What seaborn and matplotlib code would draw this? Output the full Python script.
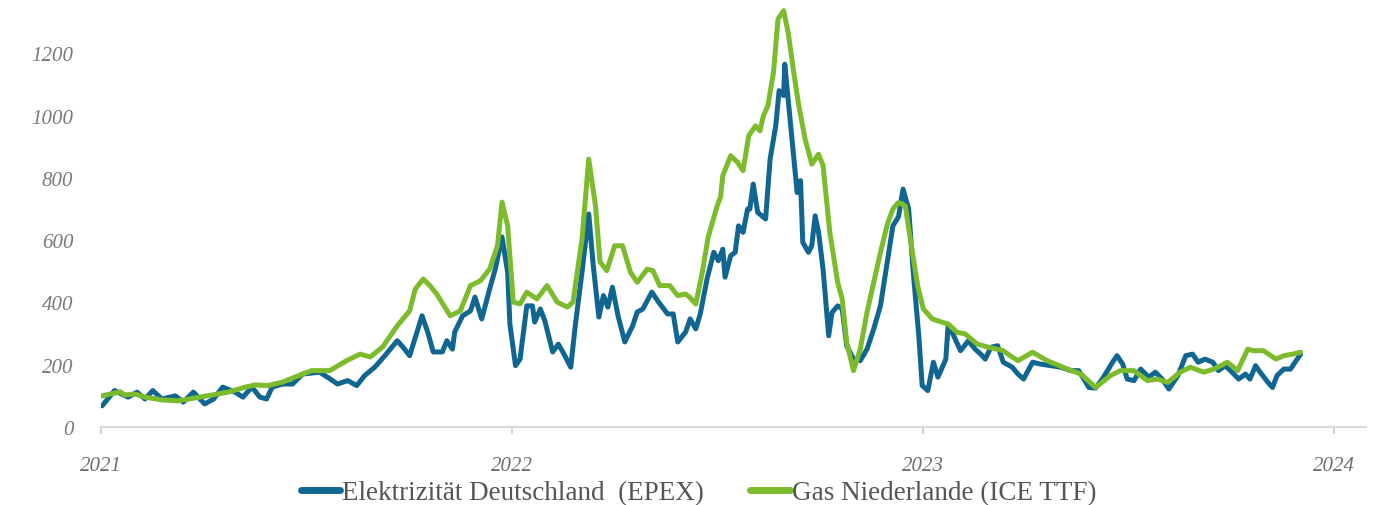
import matplotlib
matplotlib.use("Agg")
import matplotlib.pyplot as plt
from matplotlib.lines import Line2D
import pandas as pd
import seaborn as sns

# Großhandelspreise – Elektrizität vs. Gas
elec_label = "Elektrizität Deutschland  (EPEX)"
gas_label = "Gas Niederlande (ICE TTF)"

elec_dates = [
    "2021-01-02", "2021-01-13", "2021-01-25", "2021-02-02", "2021-02-09", "2021-02-16",
    "2021-02-24", "2021-03-08", "2021-03-15", "2021-03-24", "2021-04-03", "2021-04-11",
    "2021-04-19", "2021-04-30", "2021-05-07", "2021-05-15", "2021-05-22", "2021-05-28",
    "2021-06-02", "2021-06-11", "2021-06-20", "2021-06-29", "2021-07-14", "2021-07-21",
    "2021-07-30", "2021-08-08", "2021-08-16", "2021-08-23", "2021-09-01", "2021-09-10",
    "2021-09-21", "2021-09-26", "2021-10-02", "2021-10-13", "2021-10-18", "2021-10-23",
    "2021-10-31", "2021-11-04", "2021-11-09", "2021-11-11", "2021-11-18", "2021-11-25",
    "2021-11-29", "2021-12-05", "2021-12-12", "2021-12-17", "2021-12-23", "2021-12-28",
    "2021-12-30", "2022-01-04", "2022-01-08", "2022-01-14", "2022-01-19", "2022-01-21",
    "2022-01-26", "2022-01-30", "2022-02-06", "2022-02-11", "2022-02-15", "2022-02-22",
    "2022-02-26", "2022-03-04", "2022-03-10", "2022-03-14", "2022-03-19", "2022-03-23",
    "2022-03-27", "2022-03-31", "2022-04-05", "2022-04-11", "2022-04-18", "2022-04-22",
    "2022-04-27", "2022-05-05", "2022-05-11", "2022-05-19", "2022-05-24", "2022-05-28",
    "2022-06-04", "2022-06-08", "2022-06-13", "2022-06-17", "2022-06-23", "2022-06-29",
    "2022-07-03", "2022-07-07", "2022-07-09", "2022-07-14", "2022-07-18", "2022-07-21",
    "2022-07-25", "2022-07-29", "2022-07-31", "2022-08-03", "2022-08-07", "2022-08-14",
    "2022-08-18", "2022-08-23", "2022-08-26", "2022-08-30", "2022-08-31", "2022-09-03",
    "2022-09-07", "2022-09-11", "2022-09-14", "2022-09-16", "2022-09-21", "2022-09-24",
    "2022-09-27", "2022-09-30", "2022-10-04", "2022-10-09", "2022-10-12", "2022-10-17",
    "2022-10-21", "2022-10-25", "2022-10-31", "2022-11-06", "2022-11-12", "2022-11-18",
    "2022-11-24", "2022-11-30", "2022-12-05", "2022-12-10", "2022-12-14", "2022-12-19",
    "2022-12-23", "2022-12-28", "2022-12-31", "2023-01-05", "2023-01-10", "2023-01-14",
    "2023-01-21", "2023-01-23", "2023-01-28", "2023-02-03", "2023-02-10", "2023-02-16",
    "2023-02-21", "2023-02-25", "2023-03-02", "2023-03-08", "2023-03-13", "2023-03-21",
    "2023-03-26", "2023-03-31", "2023-04-08", "2023-04-15", "2023-04-24", "2023-05-03",
    "2023-05-12", "2023-05-19", "2023-05-28", "2023-06-03", "2023-06-10", "2023-06-18",
    "2023-06-22", "2023-06-27", "2023-07-01", "2023-07-07", "2023-07-13", "2023-07-20",
    "2023-07-26", "2023-08-01", "2023-08-07", "2023-08-15", "2023-08-22", "2023-08-28",
    "2023-09-02", "2023-09-08", "2023-09-15", "2023-09-20", "2023-09-26", "2023-10-02",
    "2023-10-08", "2023-10-14", "2023-10-18", "2023-10-23", "2023-10-27", "2023-11-03",
    "2023-11-07", "2023-11-11", "2023-11-17", "2023-11-23", "2023-11-27", "2023-12-02",
]
elec_values = [
    68, 117, 96, 112, 90, 117,
    90, 100, 80, 112, 74, 90,
    128, 112, 96, 128, 96, 90,
    128, 138, 138, 170, 176, 160,
    138, 149, 133, 165, 192, 229,
    277, 257, 229, 357, 305, 241,
    241, 277, 250, 305, 357, 373,
    417, 347, 443, 507, 610, 497,
    330, 197, 218, 389, 389, 337,
    379, 341, 241, 266, 241, 192,
    325, 497, 684, 518, 353, 422,
    385, 449, 357, 273, 325, 369,
    379, 433, 401, 363, 363, 273,
    305, 347, 315, 363, 475, 561,
    534, 571, 481, 550, 561, 646,
    625, 700, 700, 780, 689, 668,
    860, 967, 1080, 1064, 1165, 1053,
    903, 753, 791, 593, 561, 582,
    678, 625, 507, 293, 368, 389,
    379, 261, 218, 213, 250, 315,
    390, 530, 646, 675, 764, 700,
    500, 293, 133, 117, 208, 160,
    218, 325, 293, 245, 277, 250,
    234, 218, 256, 261, 208, 192,
    170, 154, 208, 202, 197, 192,
    181, 181, 127, 125, 160, 208,
    229, 202, 154, 149, 186, 160,
    176, 154, 122, 165, 229, 234,
    208, 218, 208, 181, 197, 176,
    154, 170, 154, 197, 176, 143,
    127, 165, 186, 186, 208, 234,
]

gas_dates = [
    "2021-01-02", "2021-01-18", "2021-01-22", "2021-01-31", "2021-02-09", "2021-02-24",
    "2021-03-10", "2021-03-25", "2021-04-10", "2021-04-24", "2021-05-09", "2021-05-18",
    "2021-05-29", "2021-06-11", "2021-06-22", "2021-07-07", "2021-07-23", "2021-08-07",
    "2021-08-19", "2021-08-28", "2021-09-08", "2021-09-21", "2021-10-02", "2021-10-07",
    "2021-10-14", "2021-10-20", "2021-10-26", "2021-11-07", "2021-11-16", "2021-11-25",
    "2021-12-04", "2021-12-12", "2021-12-19", "2021-12-23", "2021-12-28", "2022-01-02",
    "2022-01-08", "2022-01-14", "2022-01-23", "2022-02-01", "2022-02-10", "2022-02-19",
    "2022-02-24", "2022-03-04", "2022-03-10", "2022-03-16", "2022-03-20", "2022-03-26",
    "2022-04-02", "2022-04-09", "2022-04-16", "2022-04-22", "2022-05-01", "2022-05-06",
    "2022-05-12", "2022-05-21", "2022-05-28", "2022-06-04", "2022-06-08", "2022-06-13",
    "2022-06-19", "2022-06-24", "2022-07-02", "2022-07-05", "2022-07-07", "2022-07-14",
    "2022-07-20", "2022-07-25", "2022-07-30", "2022-08-05", "2022-08-09", "2022-08-12",
    "2022-08-16", "2022-08-21", "2022-08-25", "2022-08-30", "2022-09-03", "2022-09-08",
    "2022-09-12", "2022-09-18", "2022-09-24", "2022-09-30", "2022-10-04", "2022-10-10",
    "2022-10-17", "2022-10-21", "2022-10-25", "2022-10-31", "2022-11-06", "2022-11-12",
    "2022-11-18", "2022-11-24", "2022-11-30", "2022-12-05", "2022-12-10", "2022-12-16",
    "2022-12-20", "2022-12-27", "2023-01-01", "2023-01-09", "2023-01-18", "2023-01-23",
    "2023-01-31", "2023-02-07", "2023-02-18", "2023-02-28", "2023-03-13", "2023-03-19",
    "2023-03-26", "2023-04-08", "2023-04-21", "2023-05-09", "2023-05-21", "2023-06-03",
    "2023-06-16", "2023-06-25", "2023-07-07", "2023-07-19", "2023-07-28", "2023-08-06",
    "2023-08-17", "2023-08-26", "2023-09-07", "2023-09-16", "2023-09-28", "2023-10-07",
    "2023-10-16", "2023-10-21", "2023-10-30", "2023-11-10", "2023-11-17", "2023-11-25",
    "2023-12-02",
]
gas_values = [
    100, 113, 103, 106, 96, 87,
    84, 93, 103, 112, 128, 135,
    133, 144, 160, 181, 181, 213,
    234, 225, 257, 325, 373, 443,
    475, 454, 427, 357, 373, 454,
    470, 507, 582, 722, 646, 401,
    395, 433, 411, 454, 401, 385,
    401, 603, 860, 710, 530, 502,
    582, 582, 497, 465, 507, 502,
    454, 454, 422, 427, 415, 395,
    500, 610, 710, 738, 807, 871,
    850, 823, 935, 967, 951, 999,
    1031, 1139, 1310, 1337, 1267, 1139,
    1042, 925, 844, 876, 839, 625,
    464, 411, 272, 181, 250, 368,
    464, 561, 650, 700, 721, 710,
    614, 454, 379, 347, 336, 331,
    304, 299, 266, 256, 245, 229,
    213, 240, 213, 186, 170, 127,
    165, 181, 181, 149, 154, 143,
    176, 192, 176, 186, 208, 181,
    250, 245, 245, 218, 229, 234,
    240,
]

y_ticks = [0, 200, 400, 600, 800, 1000, 1200, 1400]
x_tick_dates = ["2021-01-01", "2022-01-01", "2023-01-01", "2024-01-01"]
x_tick_labels = ["2021", "2022", "2023", "2024"]

colors = {elec_label: "#106690", gas_label: "#7cbb2c"}

sns.set_theme(style="white")
plt.rcParams["font.family"] = ["Liberation Serif", "DejaVu Serif"]

df = pd.concat([
    pd.DataFrame({"Datum": pd.to_datetime(elec_dates), "Wert": elec_values, "Serie": elec_label}),
    pd.DataFrame({"Datum": pd.to_datetime(gas_dates), "Wert": gas_values, "Serie": gas_label}),
], ignore_index=True)

fig = plt.figure(figsize=(13.89, 5.06), dpi=100)
ax = fig.add_axes([101 / 1389, 78 / 506, (1366 - 101) / 1389, 436 / 506])

sns.lineplot(data=df, x="Datum", y="Wert", hue="Serie",
             hue_order=[elec_label, gas_label], palette=colors,
             estimator=None, linewidth=3.6, legend=False, ax=ax)
for ln in ax.lines:
    ln.set_solid_joinstyle("round")
    ln.set_solid_capstyle("round")

ax.set_ylim(0, 1400)
ax.set_xlim(pd.Timestamp("2021-01-01"), pd.Timestamp("2024-01-29"))
ax.set_xlabel("")
ax.set_ylabel("")

ax.set_yticks(y_ticks)
ax.set_yticklabels([str(v) for v in y_ticks], fontstyle="italic", fontsize=15, color="#7a7a7a")
ax.set_xticks(pd.to_datetime(x_tick_dates))
ax.set_xticklabels(x_tick_labels, fontstyle="italic", fontsize=15, color="#6e6e6e")

ax.tick_params(axis="y", length=0, pad=20)
ax.tick_params(axis="x", length=5, width=1.2, color="#c8c8c8", pad=16, bottom=True)

for side in ["top", "right", "left"]:
    ax.spines[side].set_visible(False)
ax.spines["bottom"].set_color("#d9d9d9")
ax.spines["bottom"].set_linewidth(1.5)
ax.grid(False)

handles = [Line2D([], [], color=colors[elec_label], linewidth=5, solid_capstyle="round"),
           Line2D([], [], color=colors[gas_label], linewidth=5, solid_capstyle="round")]
fig.legend(handles, [elec_label, gas_label], loc="center", bbox_to_anchor=(0.503, 0.024),
           ncol=2, frameon=False, fontsize=19.5, labelcolor="#555555",
           handlelength=1.45, handletextpad=0.08, columnspacing=1.7)

fig.savefig("out.png", dpi=100)
